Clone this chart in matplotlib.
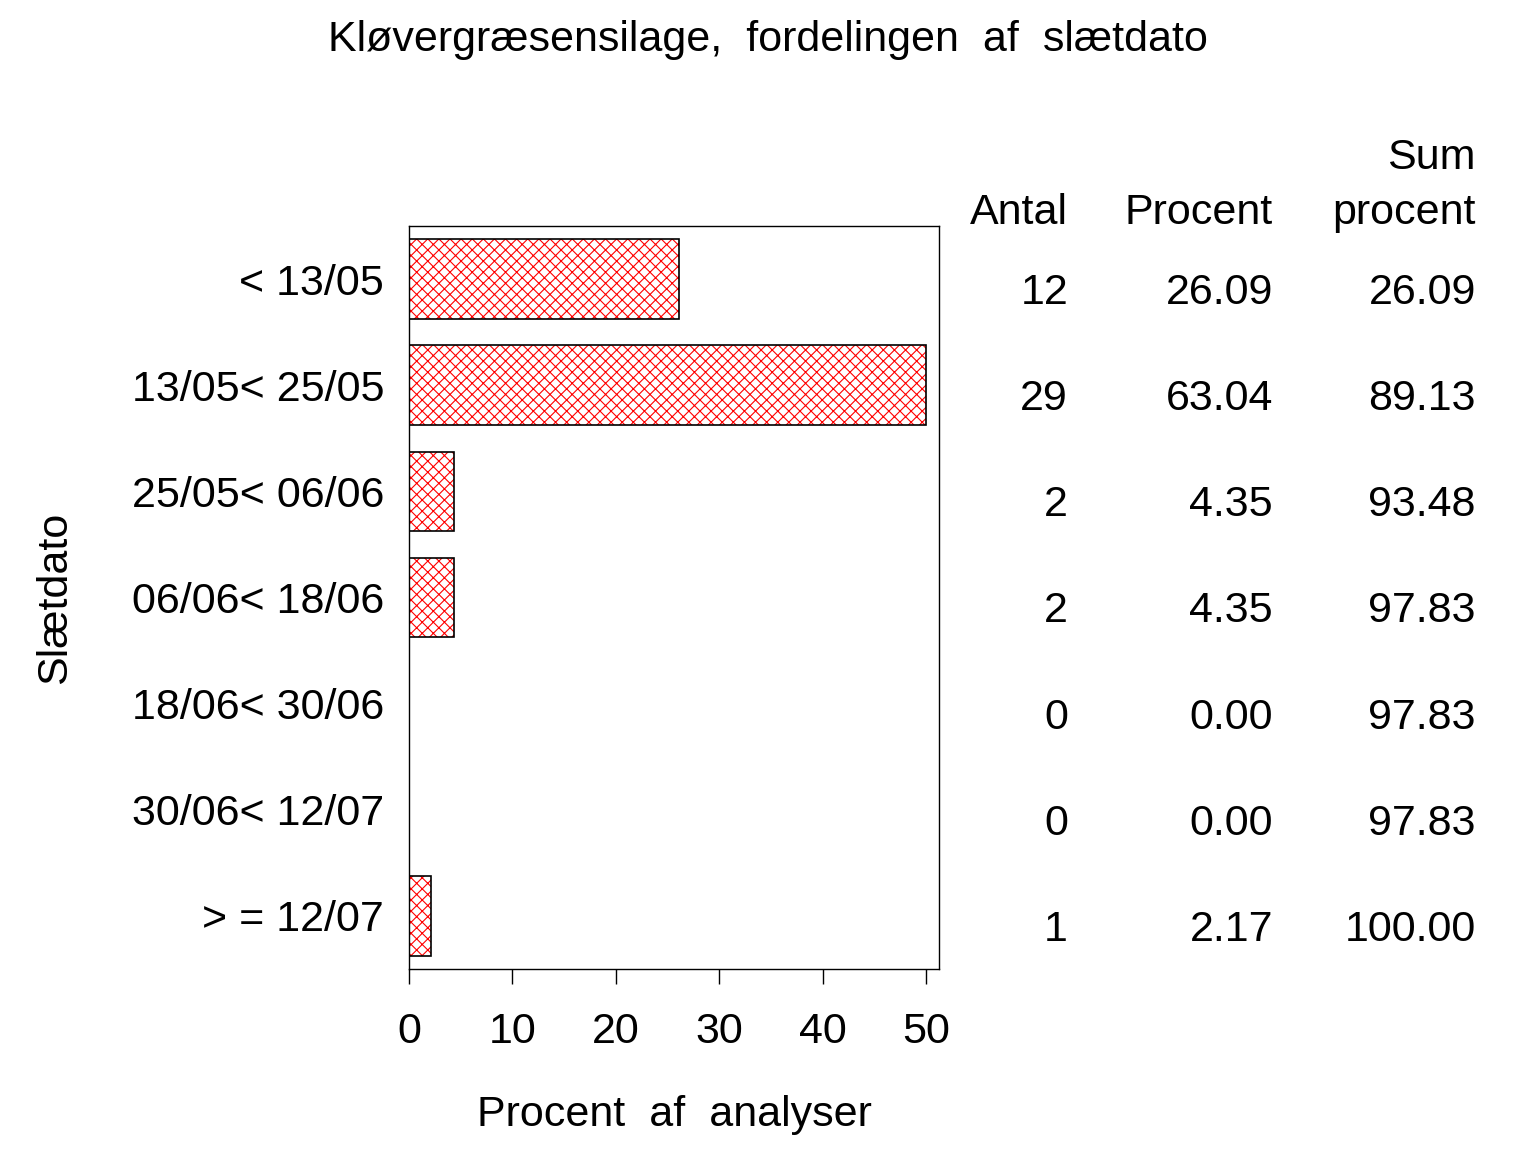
import matplotlib
matplotlib.use('Agg')
import matplotlib.pyplot as plt
import numpy as np

# Data
kategorier = ['< 13/05', '13/05< 25/05', '25/05< 06/06', '06/06< 18/06',
              '18/06< 30/06', '30/06< 12/07', '> = 12/07']
antal = [12, 29, 2, 2, 0, 0, 1]
procent = [26.09, 63.04, 4.35, 4.35, 0.00, 0.00, 2.17]
sum_procent = [26.09, 89.13, 93.48, 97.83, 97.83, 97.83, 100.00]
x_ticks = [0, 10, 20, 30, 40, 50]

plt.rcParams['font.family'] = ['Liberation Sans', 'DejaVu Sans']
plt.rcParams['hatch.linewidth'] = 0.8

fig = plt.figure(figsize=(15.36, 11.52), dpi=100)
ax = fig.add_axes([409 / 1536, 1 - 969 / 1152, 530 / 1536, 743 / 1152])

y = np.arange(len(kategorier))
vis = np.minimum(procent, 50)  # akse stopper ved 50
ax.barh(y, vis, height=0.75, color='white', edgecolor='red', hatch='xxx', linewidth=0)
ax.barh(y, vis, height=0.75, fill=False, edgecolor='black', linewidth=1.2)

ax.set_xlim(0, 51.25)
ax.set_ylim(6.5, -0.5)
ax.set_xticks(x_ticks)
ax.set_yticks(y)
ax.set_yticklabels(kategorier)
ax.tick_params(axis='x', length=11, width=1, pad=20, labelsize=31)
ax.tick_params(axis='y', length=0, pad=18, labelsize=31)
for s in ax.spines.values():
    s.set_linewidth(1)

ax.set_xlabel('Procent  af  analyser', fontsize=31, labelpad=31)
ax.set_ylabel('Slætdato', fontsize=31, labelpad=41)
fig.text(0.5, 1 - 40 / 1152, 'Kløvergræsensilage,  fordelingen  af  slætdato',
         ha='center', va='center', fontsize=31)

# tabel til højre
kol_x = [1068 / 1536, 1273 / 1536, 1476 / 1536]
fig.text(kol_x[0], 1 - 213 / 1152, 'Antal', ha='right', va='center', fontsize=31)
fig.text(kol_x[1], 1 - 213 / 1152, 'Procent', ha='right', va='center', fontsize=31)
fig.text(kol_x[2], 1 - 158 / 1152, 'Sum', ha='right', va='center', fontsize=31)
fig.text(kol_x[2], 1 - 213 / 1152, 'procent', ha='right', va='center', fontsize=31)
for i in range(len(kategorier)):
    vals = [f'{antal[i]}', f'{procent[i]:.2f}', f'{sum_procent[i]:.2f}']
    for xk, v in zip(kol_x, vals):
        ax.annotate(v, xy=(xk, y[i]), xycoords=('figure fraction', 'data'),
                    xytext=(0, -10), textcoords='offset points',
                    ha='right', va='center', fontsize=31)

fig.savefig('out.png', dpi=100)
